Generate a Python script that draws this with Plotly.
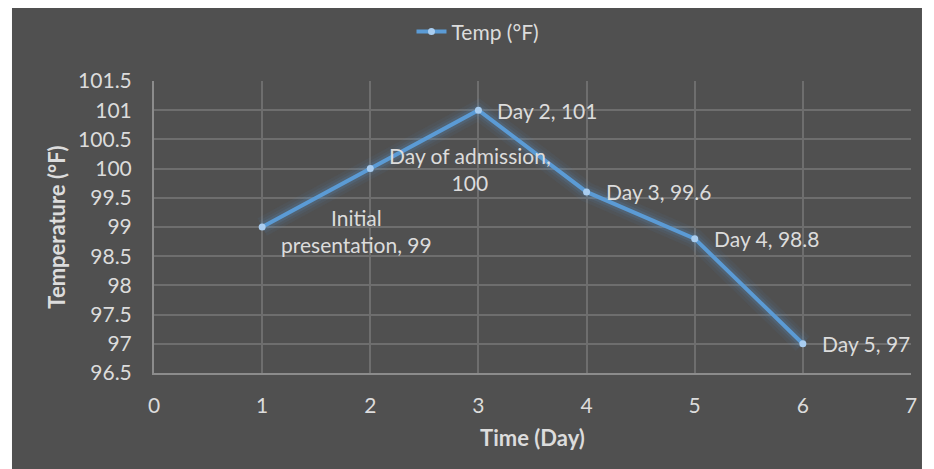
import plotly.graph_objects as go

days = [1, 2, 3, 4, 5, 6]
temps = [99, 100, 101, 99.6, 98.8, 97]
labels = ["Initial<br>presentation, 99", "Day of admission,<br>100", "Day 2, 101",
          "Day 3, 99.6", "Day 4, 98.8", "Day 5, 97"]
x_ticks = [0, 1, 2, 3, 4, 5, 6, 7]
y_ticks = [96.5, 97, 97.5, 98, 98.5, 99, 99.5, 100, 100.5, 101, 101.5]

BG = "#505050"
GRID = "#6e6e6e"
AXIS = "#8c8c8c"
TXT = "#dcdcdc"
LINE = "#5b9bd5"
FONT = "Lato"
FS = 21

fig = go.Figure()

# glow layers
for w, a in [(20, 0.06), (14, 0.08), (9, 0.14)]:
    fig.add_trace(go.Scatter(x=days, y=temps, mode="lines",
                             line=dict(color=f"rgba(91,155,213,{a})", width=w),
                             hoverinfo="skip", showlegend=False))

fig.add_trace(go.Scatter(x=days, y=temps, mode="lines+markers", name="Temp (°F)",
                         line=dict(color=LINE, width=4),
                         marker=dict(color="#a9cdf0", size=7, line=dict(width=0))))

annotations = []
for x, y, t in zip(days, temps, labels):
    ys = -4 if x == 1 else 0
    annotations.append(dict(x=x, y=y, text=t, showarrow=False, xanchor="left",
                            yanchor="middle", align="center", xshift=17, yshift=ys,
                            font=dict(family=FONT, size=FS, color=TXT)))

fig.update_layout(
    width=926, height=461,
    paper_bgcolor="white", plot_bgcolor=BG,
    margin=dict(l=146, r=23, t=73, b=96, autoexpand=False),
    font=dict(family=FONT, size=FS, color=TXT),
    annotations=annotations,
    shapes=[dict(type="rect", xref="paper", yref="paper", x0=-0.1876, x1=1.0145,
                 y0=-0.33, y1=1.25, fillcolor=BG, line=dict(width=0), layer="below")],
    legend=dict(orientation="h", x=0.428, xanchor="center", y=1.168, yanchor="middle",
                bgcolor="rgba(0,0,0,0)", font=dict(family=FONT, size=FS, color=TXT),
                itemwidth=30),
    xaxis=dict(range=[0, 7], tickvals=x_ticks, showgrid=True, gridcolor=GRID, gridwidth=1.5,
               zeroline=False, showline=True, linecolor=AXIS, linewidth=2, mirror=False,
               ticks="outside", ticklen=13, tickcolor="rgba(0,0,0,0)",
               tickfont=dict(family=FONT, size=FS, color=TXT),
               title=dict(text="<b>Time (Day)</b>", font=dict(family=FONT, size=22, color=TXT),
                          standoff=14)),
    yaxis=dict(range=[96.5, 101.5], tickvals=y_ticks, showgrid=True, gridcolor=GRID, gridwidth=1.5,
               zeroline=False, showline=True, linecolor=AXIS, linewidth=2, mirror=False,
               ticks="outside", ticklen=16, tickcolor="rgba(0,0,0,0)",
               tickfont=dict(family=FONT, size=FS, color=TXT),
               title=dict(text="<b>Temperature (°F)</b>", font=dict(family=FONT, size=22, color=TXT),
                          standoff=6)),
)

fig.write_html("out.html")
